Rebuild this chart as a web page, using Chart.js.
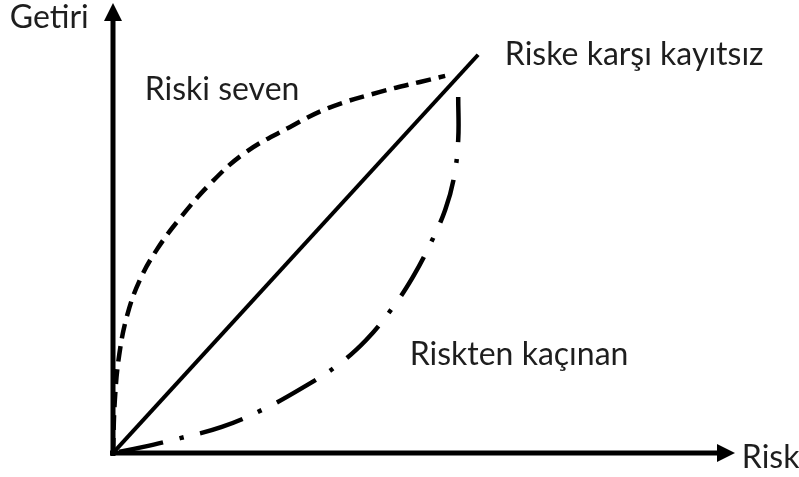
<!DOCTYPE html>
<html lang="tr">
<head>
<meta charset="utf-8">
<title>Risk ve Getiri</title>
<script src="https://cdn.jsdelivr.net/npm/chart.js@4/dist/chart.umd.min.js"></script>
<style>
    html, body {
        margin: 0;
        padding: 0;
        background: #ffffff;
    }
    canvas {
        display: block;
    }
</style>
</head>
<body>
<canvas id="chart" width="799" height="477"></canvas>
<script>
const axisTitles = ["Risk", "Getiri"];
const seriesLabels = ["Riske karşı kayıtsız", "Riski seven", "Riskten kaçınan"];

// risk-neutral: straight line
const neutralRisk = [0, 5.87];
const neutralReturn = [0, 8.85];

// risk-seeking: concave curve, from origin upward
const seekingRisk = [0, 0.03, 0.10, 0.23, 0.43, 0.71, 1.08, 1.56, 2.12, 2.84, 3.47, 4.28, 4.92, 5.34];
const seekingReturn = [0, 1.18, 2.18, 3.07, 3.84, 4.53, 5.22, 5.98, 6.67, 7.24, 7.67, 8.02, 8.24, 8.38];

// risk-averse: convex curve, from the top down to origin
const averseRisk = [5.55, 5.55, 5.48, 5.34, 5.11, 4.82, 4.49, 4.07, 3.59, 3.01, 2.40, 1.75, 1.08, 0.47, 0];
const averseReturn = [7.91, 6.96, 6.11, 5.40, 4.67, 3.91, 3.22, 2.51, 1.93, 1.42, 0.96, 0.58, 0.33, 0.13, 0];

function toPoints(xs, ys) {
    return xs.map((x, i) => {
        return { x: x, y: ys[i] };
    });
}

const textColor = "#1e1e1e";
const textFont = "32px Lato";

// where each text sits, in axis units (left edge, baseline)
const textPlacements = [
    { text: axisTitles[1], x: -1.66, y: 9.44 },
    { text: axisTitles[0], x: 10.11, y: -0.33 },
    { text: seriesLabels[0], x: 6.30, y: 8.62 },
    { text: seriesLabels[1], x: 0.51, y: 7.84 },
    { text: seriesLabels[2], x: 4.77, y: 1.96 },
];

const axesPlugin = {
    id: "arrowAxes",
    afterDatasetsDraw(chart) {
        const ctx = chart.ctx;
        const xScale = chart.scales.x;
        const yScale = chart.scales.y;
        const x0 = xScale.getPixelForValue(0);
        const y0 = yScale.getPixelForValue(0);
        const xEnd = xScale.getPixelForValue(xScale.max);
        const yEnd = yScale.getPixelForValue(yScale.max);
        const head = 18;
        const half = 9;

        ctx.save();
        ctx.strokeStyle = "#000000";
        ctx.fillStyle = "#000000";
        ctx.lineWidth = 5;
        ctx.lineCap = "butt";

        ctx.beginPath();
        ctx.moveTo(x0, y0 + 3);
        ctx.lineTo(x0, yEnd + head);
        ctx.moveTo(x0 - 3, y0);
        ctx.lineTo(xEnd - head, y0);
        ctx.stroke();

        ctx.beginPath();
        ctx.moveTo(x0, yEnd);
        ctx.lineTo(x0 - half, yEnd + head);
        ctx.lineTo(x0 + half, yEnd + head);
        ctx.closePath();
        ctx.fill();

        ctx.beginPath();
        ctx.moveTo(xEnd, y0);
        ctx.lineTo(xEnd - head, y0 - half);
        ctx.lineTo(xEnd - head, y0 + half);
        ctx.closePath();
        ctx.fill();

        ctx.font = textFont;
        ctx.fillStyle = textColor;
        ctx.textAlign = "left";
        ctx.textBaseline = "alphabetic";
        textPlacements.forEach((item) => {
            ctx.fillText(item.text, xScale.getPixelForValue(item.x), yScale.getPixelForValue(item.y));
        });
        ctx.restore();
    },
};

const chartData = {
    datasets: [
        {
            label: seriesLabels[0],
            data: toPoints(neutralRisk, neutralReturn),
            borderColor: "#000000",
            borderWidth: 4,
            tension: 0,
        },
        {
            label: seriesLabels[1],
            data: toPoints(seekingRisk, seekingReturn),
            borderColor: "#000000",
            borderWidth: 4.5,
            borderDash: [15, 8],
            tension: 0.4,
        },
        {
            label: seriesLabels[2],
            data: toPoints(averseRisk, averseReturn),
            borderColor: "#000000",
            borderWidth: 4.5,
            borderDash: [45, 17, 4, 17],
            tension: 0.4,
        },
    ],
};

new Chart(document.getElementById("chart"), {
    type: "scatter",
    data: chartData,
    options: {
        responsive: false,
        animation: false,
        showLine: true,
        layout: {
            padding: { left: 113, right: 64, top: 3, bottom: 24 },
        },
        elements: {
            point: { radius: 0, hoverRadius: 0 },
            line: { borderCapStyle: "butt", fill: false },
        },
        plugins: {
            legend: { display: false },
            tooltip: { enabled: false },
        },
        scales: {
            x: { type: "linear", min: 0, max: 10, display: false },
            y: { type: "linear", min: 0, max: 10, display: false },
        },
    },
    plugins: [axesPlugin],
});
</script>
</body>
</html>
